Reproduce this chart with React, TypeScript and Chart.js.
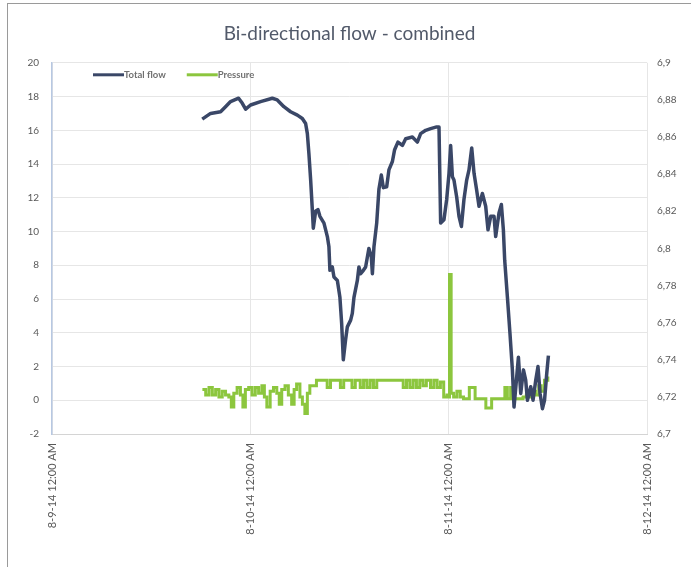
import React, { useEffect, useRef } from "react";
import { Chart, registerables } from "chart.js";

Chart.register(...registerables);

const TITLE = "Bi-directional flow - combined";
const X_TICK_LABELS = ["8-9-14 12:00 AM", "8-10-14 12:00 AM", "8-11-14 12:00 AM", "8-12-14 12:00 AM"];

// hours since 8-9-14 12:00 AM
const flowHours = [
  18.18, 19.19, 20.4, 21.0, 21.61, 22.58, 23.03, 23.43, 24.03, 25.24, 26.66, 27.26, 28.06, 28.87, 29.69,
  30.29, 30.69, 30.9, 31.09, 31.3, 31.5, 31.62, 31.9, 32.18, 32.42, 32.91, 33.32, 33.51, 33.63, 33.92,
  34.12, 34.53, 34.84, 35.05, 35.25, 35.53, 35.74, 36.14, 36.34, 36.54, 36.95, 37.14, 37.35, 37.68, 37.95,
  38.35, 38.64, 38.77, 38.96, 39.29, 39.56, 39.85, 40.1, 40.5, 40.77, 41.19, 41.46, 41.86, 42.4, 42.8,
  43.61, 44.21, 44.61, 45.22, 45.82, 46.55, 46.83, 47.03, 47.43, 47.76, 48.04, 48.24, 48.45, 48.64, 48.97,
  49.25, 49.54, 49.85, 50.18, 50.46, 50.79, 51.07, 51.39, 51.67, 52.08, 52.48, 52.76, 53.09, 53.49, 53.69,
  54.09, 54.38, 54.62, 54.78, 55.11, 55.42, 55.71, 55.91, 56.2, 56.44, 56.72, 57.05, 57.32, 57.53, 57.93,
  58.21, 58.54, 58.81, 59.06, 59.35, 59.6, 59.87, 60.07,
];
const flowValues = [
  16.66, 17.0, 17.1, 17.4, 17.7, 17.9, 17.6, 17.25, 17.5, 17.7, 17.9, 17.8, 17.4, 17.1, 16.9,
  16.7, 16.4, 15.8, 14.6, 13.05, 11.3, 10.2, 11.2, 11.3, 10.9, 10.5, 9.7, 9.1, 7.7, 7.9,
  7.3, 7.1, 6.1, 4.55, 2.4, 3.6, 4.35, 4.75, 5.15, 6.1, 7.1, 7.9, 7.5, 7.7, 7.9,
  9.0, 8.5, 7.5, 9.1, 10.5, 12.5, 13.35, 12.6, 12.65, 13.65, 14.15, 14.85, 15.3, 15.1, 15.5,
  15.6, 15.3, 15.8, 16.0, 16.1, 16.2, 16.2, 10.5, 10.7, 11.9, 13.45, 15.1, 13.25, 13.05, 12.05,
  10.9, 10.3, 11.9, 13.05, 13.65, 14.95, 13.45, 12.45, 11.5, 12.25, 11.5, 10.1, 10.9, 10.9, 9.7,
  11.1, 11.6, 10.1, 8.3, 6.1, 3.95, 1.8, -0.4, 1.2, 2.55, 0.4, 1.8, 1.2, 0.0, 0.8,
  0.0, 1.2, 2.0, 0.4, -0.5, 0.0, 1.6, 2.65,
];

const pressureHours = [
  18.2, 18.6, 19.0, 19.4, 19.8, 20.2, 20.6, 21.0, 21.4, 21.7, 22.0, 22.4, 22.8, 23.1, 23.4, 23.8, 24.2, 24.6,
  25.0, 25.4, 25.7, 26.0, 26.4, 26.8, 27.2, 27.5, 27.8, 28.2, 28.6, 29.0, 29.3, 29.6, 30.0, 30.3, 30.6, 30.9,
  31.2, 31.6, 32.0, 32.4, 33.0, 33.3, 33.7, 34.5, 34.9, 35.3, 36.0, 36.3, 36.7, 37.3, 37.7, 38.1, 38.5, 38.9,
  39.3, 40.0, 41.0, 42.0, 42.5, 42.9, 43.3, 43.7, 44.1, 44.5, 44.9, 45.3, 45.8, 46.2, 46.6, 47.0, 47.4, 47.8,
  48.05, 48.1, 48.25, 48.3, 48.6, 49.0, 49.4, 49.8, 50.2, 50.5, 50.9, 51.2, 51.6, 52.0, 52.5, 52.9, 53.2, 53.6,
  54.0, 54.4, 54.8, 55.1, 55.5, 55.8, 56.2, 56.6, 57.0, 57.4, 57.8, 58.2, 58.5, 58.9, 59.2, 59.6, 60.0,
];
const pressureValues = [
  6.724, 6.721, 6.725, 6.721, 6.724, 6.72, 6.723, 6.721, 6.72, 6.7146, 6.722, 6.725, 6.721, 6.7146, 6.724, 6.725, 6.721, 6.725,
  6.722, 6.726, 6.72, 6.7146, 6.723, 6.725, 6.722, 6.716, 6.724, 6.726, 6.721, 6.716, 6.724, 6.727, 6.72, 6.716, 6.711, 6.722,
  6.726, 6.726, 6.729, 6.729, 6.729, 6.725, 6.729, 6.729, 6.725, 6.729, 6.729, 6.725, 6.729, 6.725, 6.729, 6.725, 6.729, 6.725,
  6.729, 6.729, 6.729, 6.729, 6.725, 6.729, 6.725, 6.729, 6.725, 6.729, 6.726, 6.729, 6.725, 6.729, 6.725, 6.728, 6.72, 6.721,
  6.72, 6.786, 6.786, 6.722, 6.72, 6.723, 6.72, 6.719, 6.719, 6.725, 6.725, 6.719, 6.719, 6.719, 6.714, 6.714, 6.719, 6.719,
  6.719, 6.719, 6.725, 6.719, 6.725, 6.719, 6.719, 6.719, 6.72, 6.721, 6.72, 6.723, 6.721, 6.726, 6.723, 6.729, 6.731,
];

const FLOW_COLOR = "#3a4767";
const PRESSURE_COLOR = "#8cc63e";
const TEXT_COLOR = "#595959";
const FONT = "Lato, 'Open Sans', sans-serif";

const insideLegend = {
  id: "insideLegend",
  afterDatasetsDraw(chart: any) {
    const ctx = chart.ctx;
    const area = chart.chartArea;
    const y = area.top + 12;
    let x = area.left + 41;
    ctx.save();
    ctx.font = `bold 9.5px ${FONT}`;
    ctx.textBaseline = "middle";
    ctx.textAlign = "left";
    chart.data.datasets.forEach((ds: any) => {
      ctx.strokeStyle = ds.borderColor;
      ctx.lineWidth = 3;
      ctx.beginPath();
      ctx.moveTo(x, y);
      ctx.lineTo(x + 31, y);
      ctx.stroke();
      ctx.fillStyle = "#707070";
      ctx.fillText(ds.label, x + 31, y);
      x += 31 + ctx.measureText(ds.label).width + 21;
    });
    ctx.restore();
  },
};

export default function App() {
  const canvasRef = useRef<HTMLCanvasElement | null>(null);

  useEffect(() => {
    document.body.style.margin = "0";
    document.body.style.overflow = "hidden";
    const canvas = canvasRef.current;
    if (!canvas) return;
    const flowData = flowHours.map((h, i) => ({ x: h, y: flowValues[i] }));
    const pressureData = pressureHours.map((h, i) => ({ x: h, y: pressureValues[i] }));
    const chart = new Chart(canvas, {
      type: "line",
      data: {
        datasets: [
          {
            label: "Total flow",
            data: flowData,
            borderColor: FLOW_COLOR,
            backgroundColor: FLOW_COLOR,
            borderWidth: 3.5,
            pointRadius: 0,
            tension: 0,
            borderJoinStyle: "round",
            yAxisID: "y",
          },
          {
            label: "Pressure",
            data: pressureData,
            borderColor: PRESSURE_COLOR,
            backgroundColor: PRESSURE_COLOR,
            borderWidth: 3,
            pointRadius: 0,
            stepped: true,
            yAxisID: "y1",
          },
        ],
      },
      options: {
        animation: false,
        responsive: false,
        maintainAspectRatio: false,
        layout: { padding: 0 },
        plugins: {
          legend: { display: false },
          tooltip: { enabled: false },
          title: {
            display: true,
            text: TITLE,
            color: "#525a6a",
            font: { family: FONT, size: 19, weight: "normal", lineHeight: 1.2 },
            padding: { top: 18, bottom: 18 },
          },
        },
        scales: {
          x: {
            type: "linear",
            min: 0,
            max: 72,
            ticks: {
              stepSize: 24,
              minRotation: 90,
              maxRotation: 90,
              padding: 9,
              color: TEXT_COLOR,
              font: { family: FONT, size: 11 },
              callback: (v: any) => X_TICK_LABELS[Math.round(Number(v) / 24)] ?? "",
            },
            grid: { color: "#e6e6e6", drawTicks: false },
            border: { color: "#d4d4d4", width: 1 },
            afterFit: (scale: any) => {
              scale.height = 133;
            },
          },
          y: {
            position: "left",
            min: -2,
            max: 20,
            ticks: {
              stepSize: 2,
              padding: 13,
              color: TEXT_COLOR,
              font: { family: FONT, size: 10 },
            },
            grid: { color: "#e6e6e6", drawTicks: false },
            border: { color: "#b7c8e2", width: 1.5 },
            afterFit: (scale: any) => {
              scale.width = 44;
            },
          },
          y1: {
            position: "right",
            min: 6.7,
            max: 6.9,
            ticks: {
              stepSize: 0.02,
              padding: 10,
              color: TEXT_COLOR,
              font: { family: FONT, size: 10 },
              callback: (v: any) => String(parseFloat(Number(v).toFixed(2))).replace(".", ","),
            },
            grid: { display: false, drawTicks: false },
            border: { display: false },
            afterFit: (scale: any) => {
              scale.width = 44;
            },
          },
        },
      },
      plugins: [insideLegend],
    });
    return () => chart.destroy();
  }, []);

  return (
    <div
      style={{
        position: "fixed",
        left: 7,
        top: 3,
        borderLeft: "1.5px solid #9a9a9a",
        borderTop: "1.5px solid #9a9a9a",
        background: "#fff",
      }}
    >
      <canvas ref={canvasRef} width={683} height={563} style={{ display: "block", width: 683, height: 563 }} />
    </div>
  );
}
